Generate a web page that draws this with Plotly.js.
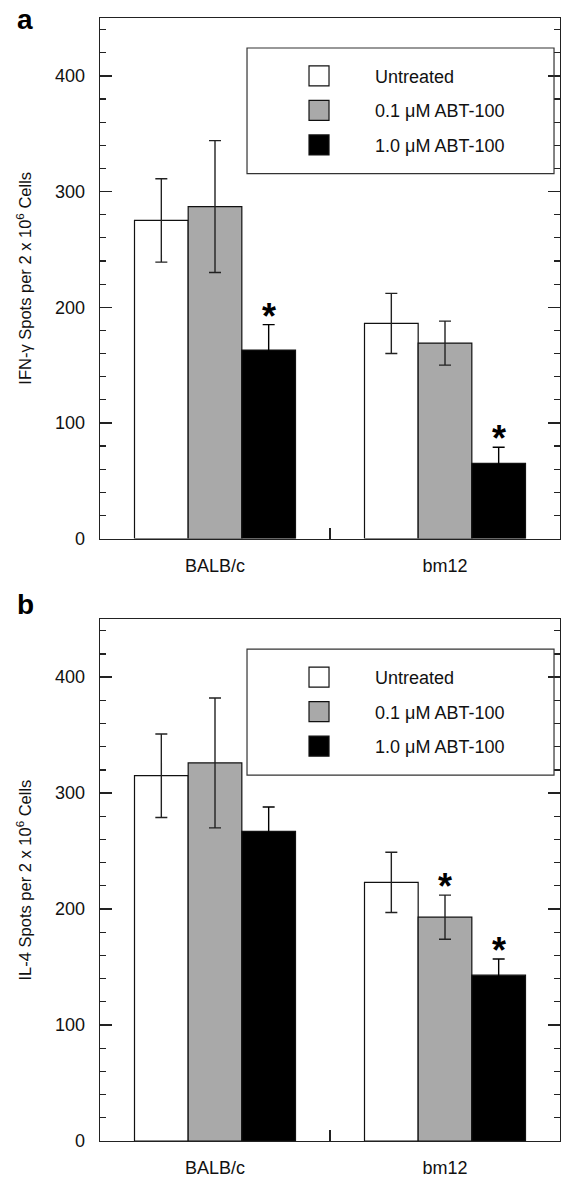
<!DOCTYPE html>
<html>
<head>
<meta charset="utf-8">
<script src="https://cdn.plot.ly/plotly-3.0.1.min.js"></script>
<style>
html,body{margin:0;padding:0;background:#fff;}
#chart{width:561px;height:1179px;}
</style>
</head>
<body>
<div id="chart"></div>
<script>
// ---- data ----
const categories = ['BALB/c', 'bm12'];
const seriesNames = ['Untreated', '0.1 \u03BCM ABT-100', '1.0 \u03BCM ABT-100'];
const seriesColors = ['#ffffff', '#a9a9a9', '#000000'];
const errorColors = ['#222222', '#222222', '#000000'];

// Panel a: IFN-γ spots
const ifnUntreated = [275, 186];
const ifnLow = [287, 169];
const ifnHigh = [163, 65];
const ifnUntreatedErr = [36, 26];
const ifnLowErr = [57, 19];
const ifnHighErr = [22, 14];
// significance flags (asterisk) per series, per category
const ifnStars = [[false, false], [false, false], [true, true]];

// Panel b: IL-4 spots
const il4Untreated = [315, 223];
const il4Low = [326, 193];
const il4High = [267, 143];
const il4UntreatedErr = [36, 26];
const il4LowErr = [56, 19];
const il4HighErr = [21, 14];
const il4Stars = [[false, false], [false, true], [false, true]];

const panelLetters = ['a', 'b'];
const yTitles = ['IFN-\u03B3 Spots per 2 x 10<sup>6</sup> Cells', 'IL-4 Spots per 2 x 10<sup>6</sup> Cells'];

// ---- styling ----
const FONT = 'Liberation Sans, Arial, Helvetica, sans-serif';
const INK = '#222222';
const BARGAP = 0.3;

const panels = [
  {means: [ifnUntreated, ifnLow, ifnHigh], errs: [ifnUntreatedErr, ifnLowErr, ifnHighErr], stars: ifnStars, xa: 'x', ya: 'y', legend: 'legend'},
  {means: [il4Untreated, il4Low, il4High], errs: [il4UntreatedErr, il4LowErr, il4HighErr], stars: il4Stars, xa: 'x2', ya: 'y2', legend: 'legend2'}
];

const traces = [];
const annotations = [];
const shapes = [];
const nSeries = seriesNames.length;
const barW = (1 - BARGAP) / nSeries;

panels.forEach((p, pi) => {
  for (let s = 0; s < nSeries; s++) {
    traces.push({
      type: 'bar',
      name: seriesNames[s],
      x: categories,
      y: p.means[s],
      xaxis: p.xa,
      yaxis: p.ya,
      legend: p.legend,
      legendgroup: 'g' + pi + s,
      marker: {color: seriesColors[s], line: {color: '#111', width: 1.2}},
      error_y: {type: 'data', array: p.errs[s], visible: true, color: errorColors[s], thickness: 1.4, width: 6},
      hoverinfo: 'skip'
    });
    for (let c = 0; c < categories.length; c++) {
      if (p.stars[s][c]) {
        annotations.push({
          xref: p.xa, yref: p.ya,
          x: c + (s - (nSeries - 1) / 2) * barW,
          y: p.means[s][c] + p.errs[s][c],
          text: '*', showarrow: false,
          xanchor: 'center', yanchor: 'bottom', yshift: -14,
          font: {family: FONT, size: 36, color: '#000', weight: 'bold'}
        });
      }
    }
  }
  // legend frame
  shapes.push({
    type: 'rect', xref: p.xa + ' domain', yref: p.ya + ' domain',
    x0: 0.3196, x1: 0.987, y0: 0.701, y1: 0.9424,
    line: {color: '#333', width: 1.2}, fillcolor: 'rgba(0,0,0,0)', layer: 'above'
  });
});

annotations.push({xref: 'paper', yref: 'paper', x: -0.184, y: 0.9991, xanchor: 'left', yanchor: 'middle',
  text: '<b>' + panelLetters[0] + '</b>', showarrow: false, font: {family: FONT, size: 28, color: '#000'}});
annotations.push({xref: 'paper', yref: 'paper', x: -0.184, y: 0.4774, xanchor: 'left', yanchor: 'middle',
  text: '<b>' + panelLetters[1] + '</b>', showarrow: false, font: {family: FONT, size: 28, color: '#000'}});

function xAxis(anchor) {
  return {
    anchor: anchor, domain: [0, 1], type: 'category', range: [-0.5, 1.5],
    showline: true, mirror: true, linecolor: INK, linewidth: 1.3,
    ticks: 'inside', tickson: 'boundaries', ticklen: 11, tickcolor: INK, tickwidth: 1.3,
    tickfont: {family: FONT, size: 18, color: '#111'}, ticklabelstandoff: 10,
    showgrid: false, zeroline: false, fixedrange: true
  };
}
function yAxis(anchor, domain, title) {
  return {
    anchor: anchor, domain: domain, range: [0, 450], tick0: 0, dtick: 100,
    showline: true, mirror: 'ticks', linecolor: INK, linewidth: 1.3,
    ticks: 'inside', ticklen: 12, tickcolor: INK, tickwidth: 1.3,
    minor: {dtick: 20, tick0: 0, ticks: 'inside', ticklen: 6, tickcolor: INK, tickwidth: 1.2, showgrid: false},
    tickfont: {family: FONT, size: 18, color: '#111'}, ticklabelstandoff: 10,
    showgrid: false, zeroline: false, fixedrange: true,
    title: {text: title, font: {family: FONT, size: 16.5, color: '#111'}, standoff: 19}
  };
}

function legendCfg(y) {
  return {
    x: 0.3196, y: y, xanchor: 'left', yanchor: 'top', xref: 'paper', yref: 'paper',
    bgcolor: 'rgba(0,0,0,0)', borderwidth: 0,
    font: {family: FONT, size: 18, color: '#111'},
    itemwidth: 102, indentation: 16, tracegroupgap: 8.1, traceorder: 'grouped',
    itemclick: false, itemdoubleclick: false
  };
}

const layout = {
  width: 561, height: 1179,
  margin: {l: 100, r: 1, t: 18, b: 37.7, pad: 0},
  paper_bgcolor: '#fff', plot_bgcolor: '#fff',
  font: {family: FONT, color: '#111'},
  barmode: 'group', bargap: BARGAP, bargroupgap: 0,
  showlegend: true,
  xaxis: xAxis('y'),
  yaxis: yAxis('x', [0.5364, 1], yTitles[0]),
  xaxis2: xAxis('y2'),
  yaxis2: yAxis('x2', [0, 0.4647], yTitles[1]),
  legend: legendCfg(0.9646),
  legend2: legendCfg(0.4293),
  annotations: annotations,
  shapes: shapes
};

Plotly.newPlot('chart', traces, layout, {staticPlot: true, displayModeBar: false}).then(function (gd) {
  // enlarge the legend swatches to match the reference (20x20 squares)
  gd.querySelectorAll('.legendpoints path').forEach(function (el) {
    el.setAttribute('d', 'M10,10H-10V-10H10Z');
  });
});
</script>
</body>
</html>
